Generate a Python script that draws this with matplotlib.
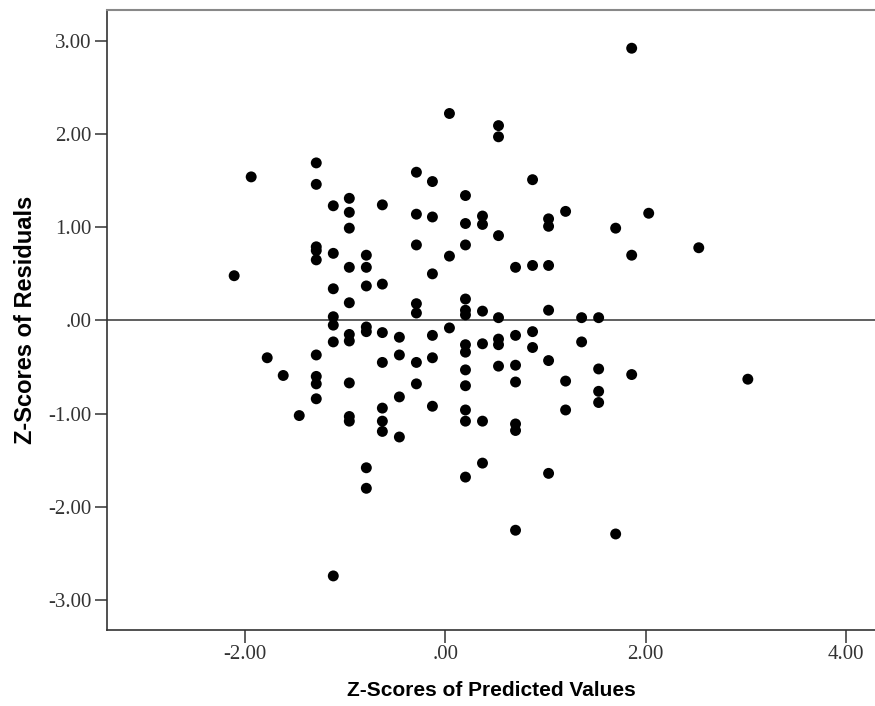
import matplotlib
matplotlib.use("Agg")
import matplotlib.pyplot as plt

# standardized predicted values (columns) and the residuals at each column
pred_cols = [-2.11, -1.94, -1.78, -1.62, -1.46, -1.29, -1.12, -0.96, -0.79,
             -0.63, -0.46, -0.29, -0.13, 0.04, 0.20, 0.37, 0.53, 0.70, 0.87,
             1.03, 1.20, 1.36, 1.53, 1.70, 1.86, 2.03, 2.53, 3.02]
resid_cols = [
    [0.48],
    [1.54],
    [-0.40],
    [-0.59],
    [-1.02],
    [1.69, 1.46, 0.79, 0.75, 0.65, -0.37, -0.60, -0.68, -0.84],
    [1.23, 0.72, 0.34, 0.04, -0.05, -0.23, -2.74],
    [1.31, 1.16, 0.99, 0.57, 0.19, -0.15, -0.22, -0.67, -1.03, -1.08],
    [0.70, 0.57, 0.37, -0.07, -0.12, -1.58, -1.80],
    [1.24, 0.39, -0.13, -0.45, -0.94, -1.08, -1.19],
    [-0.18, -0.37, -0.82, -1.25],
    [1.59, 1.14, 0.81, 0.18, 0.08, -0.45, -0.68],
    [1.49, 1.11, 0.50, -0.16, -0.40, -0.92],
    [2.22, 0.69, -0.08],
    [1.34, 1.04, 0.81, 0.23, 0.11, 0.06, -0.26, -0.34, -0.53, -0.70, -0.96,
     -1.08, -1.68],
    [1.12, 1.03, 0.10, -0.25, -1.08, -1.53],
    [2.09, 1.97, 0.91, 0.03, -0.20, -0.26, -0.49],
    [0.57, -0.16, -0.48, -0.66, -1.11, -1.18, -2.25],
    [1.51, 0.59, -0.12, -0.29],
    [1.09, 1.01, 0.59, 0.11, -0.43, -1.64],
    [1.17, -0.65, -0.96],
    [0.03, -0.23],
    [0.03, -0.52, -0.76, -0.88],
    [0.99, -2.29],
    [2.92, 0.70, -0.58],
    [1.15],
    [0.78],
    [-0.63],
]

x_ticks = [-2, 0, 2, 4]
x_ticklabels = ["-2.00", ".00", "2.00", "4.00"]
y_ticks = [-3, -2, -1, 0, 1, 2, 3]
y_ticklabels = ["-3.00", "-2.00", "-1.00", ".00", "1.00", "2.00", "3.00"]

xs, ys = [], []
for x, col in zip(pred_cols, resid_cols):
    for r in col:
        xs.append(x)
        ys.append(r)

fig = plt.figure(figsize=(8.75, 7.06), dpi=100)
ax = fig.add_axes([107 / 875, 1 - 630 / 706, 1 - 107 / 875, (630 - 10) / 706])

ax.axhline(0, color="#444444", lw=1.2, zorder=1)
ax.scatter(xs, ys, s=62, c="black", edgecolors="none", zorder=3)

ax.set_xlim(-3.38, 4.29)
ax.set_ylim(-3.32, 3.33)

ax.set_xticks(x_ticks)
ax.set_xticklabels(x_ticklabels)
ax.set_yticks(y_ticks)
ax.set_yticklabels(y_ticklabels)

ax.tick_params(direction="out", length=9, width=1.1, color="#333333",
               labelcolor="#333333", pad=2)
for lbl in ax.get_xticklabels() + ax.get_yticklabels():
    lbl.set_family("Liberation Serif")
    lbl.set_fontsize(15)

for side in ["left", "bottom"]:
    ax.spines[side].set_color("#333333")
    ax.spines[side].set_linewidth(1.2)
ax.spines["top"].set_color("#888888")
ax.spines["top"].set_linewidth(1.5)
ax.spines["right"].set_visible(False)

ax.set_xlabel("Z-Scores of Predicted Values", family="Liberation Sans",
              fontweight="bold", fontsize=15, labelpad=12)
ax.set_ylabel("Z-Scores of Residuals", family="Liberation Sans",
              fontweight="bold", fontsize=17, labelpad=8)

fig.savefig("out.png", dpi=100)
